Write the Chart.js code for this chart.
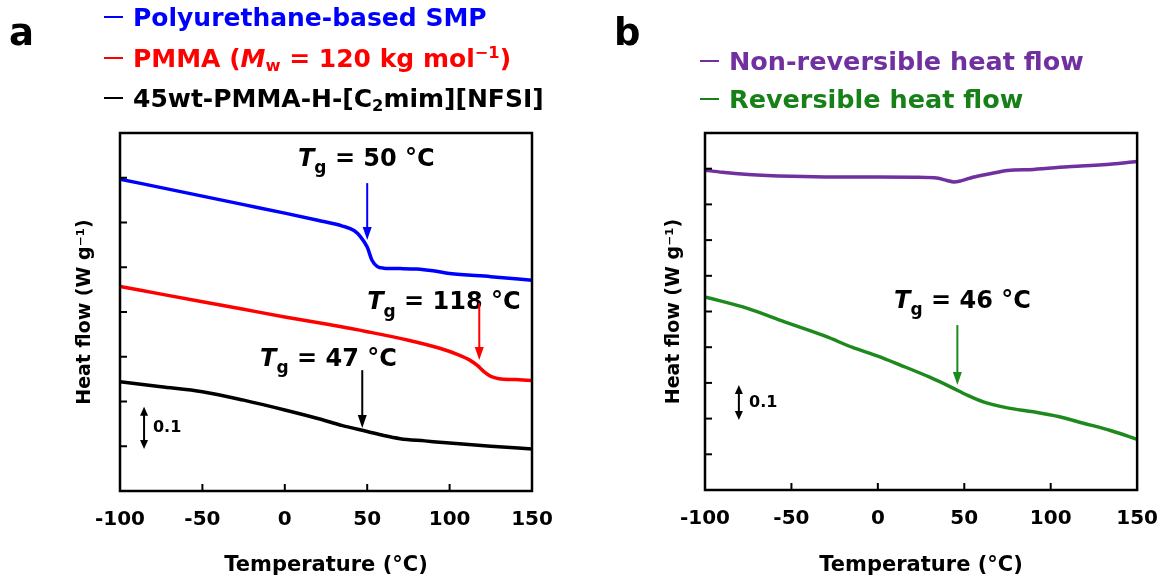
<!DOCTYPE html>
<html>
<head>
<meta charset="utf-8">
<script src="https://cdn.jsdelivr.net/npm/chart.js@4.4.1/dist/chart.umd.min.js"></script>
<style>
  body { margin: 0; background: #fff; }
  #wrap { position: relative; width: 1175px; height: 581px; overflow: hidden; font-family: "DejaVu Sans", sans-serif; font-weight: bold; }
  canvas { position: absolute; top: 0; }
  .letter { position: absolute; font-size: 37px; line-height: 37px; color: #000; }
  .lg { position: absolute; line-height: 28px; white-space: nowrap; }
  .lg .dash { display: inline-block; width: 19px; height: 2.5px; background: currentColor; vertical-align: middle; margin-right: 10px; position: relative; top: -2px; }
  .lg sub, .lg sup { font-size: 65%; line-height: 0; }
  .lg sub { vertical-align: -0.25em; }
  .lg sup { vertical-align: 0.55em; }
</style>
</head>
<body>
<div id="wrap">
  <canvas id="chartA" width="590" height="581" style="left:0"></canvas>
  <canvas id="chartB" width="575" height="581" style="left:600px"></canvas>

  <div class="letter" style="left:9px;top:14px">a</div>
  <div class="lg" style="left:104px;top:4px;font-size:25px;color:#0000ff"><span class="dash"></span>Polyurethane-based SMP</div>
  <div class="lg" style="left:104px;top:45px;font-size:25px;color:#ff0000"><span class="dash"></span>PMMA (<i>M</i><sub>w</sub> = 120 kg mol<sup>−1</sup>)</div>
  <div class="lg" style="left:104px;top:85px;font-size:25px;color:#000"><span class="dash"></span>45wt-PMMA-H-[C<sub>2</sub>mim][NFSI]</div>

  <div class="letter" style="left:614px;top:14px">b</div>
  <div class="lg" style="left:700px;top:47px;font-size:25.5px;color:#7030a0"><span class="dash"></span>Non-reversible heat flow</div>
  <div class="lg" style="left:700px;top:85px;font-size:25.5px;color:#188018"><span class="dash"></span>Reversible heat flow</div>
</div>

<script>
// panel a: DSC traces
const tempPU = [-100, -75, -50, -25, 0, 20, 35, 42, 46, 50, 53, 56, 60, 70, 80, 90, 100, 125, 150];
const heatPU = [0.697, 0.678, 0.659, 0.640, 0.621, 0.605, 0.592, 0.582, 0.568, 0.545, 0.515, 0.502, 0.498, 0.497, 0.496, 0.492, 0.486, 0.479, 0.471];

const tempPMMA = [-100, -75, -50, -25, 0, 25, 50, 75, 94, 105, 112, 117, 121, 125, 130, 140, 150];
const heatPMMA = [0.457, 0.440, 0.423, 0.406, 0.389, 0.373, 0.356, 0.337, 0.319, 0.305, 0.293, 0.280, 0.266, 0.256, 0.251, 0.249, 0.247];

const tempGel = [-100, -75, -50, -25, 0, 20, 35, 50, 60, 70, 85, 100, 125, 150];
const heatGel = [0.244, 0.233, 0.222, 0.203, 0.181, 0.162, 0.146, 0.133, 0.124, 0.117, 0.112, 0.107, 0.100, 0.094];

// panel b: modulated DSC
const tempNonRev = [-100, -90, -75, -50, -25, 0, 20, 35, 40, 44, 48, 55, 65, 75, 90, 112, 130, 150];
const heatNonRev = [0.896, 0.890, 0.884, 0.879, 0.877, 0.877, 0.876, 0.873, 0.867, 0.863, 0.866, 0.876, 0.886, 0.895, 0.898, 0.906, 0.911, 0.920];

const tempRev = [-100, -75, -54, -30, -15, 0, 13, 30, 42, 52, 61, 75, 90, 105, 119, 135, 150];
const heatRev = [0.541, 0.508, 0.471, 0.430, 0.400, 0.375, 0.350, 0.316, 0.289, 0.265, 0.247, 0.230, 0.219, 0.205, 0.187, 0.166, 0.142];

const tempTicks = [-100, -50, 0, 50, 100, 150];

const FONT = '"DejaVu Sans", sans-serif';

function pts(xs, ys) {
  return xs.map((x, i) => ({ x: x, y: ys[i] }));
}

function line(ctx, x1, y1, x2, y2) {
  ctx.beginPath();
  ctx.moveTo(x1, y1);
  ctx.lineTo(x2, y2);
  ctx.stroke();
}

function head(ctx, x, y, dir, w, h) {
  // dir = 1 points down, -1 points up
  ctx.beginPath();
  ctx.moveTo(x, y);
  ctx.lineTo(x - w / 2, y - dir * h);
  ctx.lineTo(x + w / 2, y - dir * h);
  ctx.closePath();
  ctx.fill();
}

function drawTg(ctx, px, py, rest, size) {
  ctx.fillStyle = '#000';
  ctx.textAlign = 'left';
  ctx.textBaseline = 'middle';
  ctx.font = `italic bold ${size}px ${FONT}`;
  ctx.fillText('T', px, py);
  let w = ctx.measureText('T').width;
  ctx.font = `bold ${Math.round(size * 0.7)}px ${FONT}`;
  ctx.fillText('g', px + w, py + size * 0.38);
  w += ctx.measureText('g').width;
  ctx.font = `bold ${size}px ${FONT}`;
  ctx.fillText(rest, px + w, py);
}

// frame, inward ticks, Tg notes and scale bar
const framePlugin = {
  id: 'frame',
  afterDraw(chart, args, opts) {
    const { ctx, chartArea: a } = chart;
    const sx = chart.scales.x, sy = chart.scales.y;
    ctx.save();
    ctx.strokeStyle = '#000';
    ctx.lineWidth = 2.5;
    ctx.strokeRect(a.left, a.top, a.right - a.left, a.bottom - a.top);
    ctx.lineWidth = 2;
    sx.ticks.forEach(t => {
      if (t.value <= sx.min || t.value >= sx.max) return;
      const p = sx.getPixelForValue(t.value);
      line(ctx, p, a.bottom, p, a.bottom - 7);
    });
    sy.ticks.forEach(t => {
      if (t.value <= sy.min + 1e-9 || t.value >= sy.max - 1e-9) return;
      const p = sy.getPixelForValue(t.value);
      line(ctx, a.left, p, a.left + 7, p);
    });

    (opts.notes || []).forEach(n => {
      drawTg(ctx, sx.getPixelForValue(n.x), sy.getPixelForValue(n.y), n.text, 24);
    });
    (opts.arrows || []).forEach(ar => {
      const px = sx.getPixelForValue(ar.x);
      const y1 = sy.getPixelForValue(ar.from), y2 = sy.getPixelForValue(ar.to);
      ctx.strokeStyle = ar.color;
      ctx.fillStyle = ar.color;
      ctx.lineWidth = 2;
      line(ctx, px, y1, px, y2 - 10);
      head(ctx, px, y2, 1, 9, 13);
    });
    if (opts.bar) {
      const b = opts.bar;
      const px = sx.getPixelForValue(b.x);
      const yTop = sy.getPixelForValue(b.top), yBot = sy.getPixelForValue(b.bottom);
      ctx.strokeStyle = '#000';
      ctx.fillStyle = '#000';
      ctx.lineWidth = 2;
      line(ctx, px, yTop + 7, px, yBot - 7);
      head(ctx, px, yTop, -1, 8, 9);
      head(ctx, px, yBot, 1, 8, 9);
      ctx.font = `bold 16px ${FONT}`;
      ctx.textAlign = 'left';
      ctx.textBaseline = 'middle';
      ctx.fillText(b.label, sx.getPixelForValue(b.textX), sy.getPixelForValue(b.textY));
    }
    ctx.restore();
  }
};

function makeChart(id, datasets, cfg) {
  return new Chart(document.getElementById(id), {
    type: 'line',
    data: { datasets: datasets },
    options: {
      responsive: false,
      animation: false,
      events: [],
      layout: { padding: { top: 133, right: cfg.padRight, left: 0, bottom: 0 } },
      elements: { point: { radius: 0 }, line: { borderWidth: 3.5, cubicInterpolationMode: 'monotone' } },
      plugins: {
        legend: { display: false },
        tooltip: { enabled: false },
        frame: cfg.frame
      },
      scales: {
        x: {
          type: 'linear',
          min: -100,
          max: 150,
          afterBuildTicks: s => { s.ticks = tempTicks.map(v => ({ value: v })); },
          afterFit: s => { s.height = cfg.xHeight; },
          grid: { display: false, drawTicks: false },
          border: { display: false },
          ticks: { color: '#000', font: { family: FONT, size: 20, weight: 'bold' }, padding: 17, maxRotation: 0, autoSkip: false },
          title: { display: true, text: 'Temperature (°C)', color: '#000', font: { family: FONT, size: 21, weight: 'bold' }, padding: { top: 0, bottom: 3 } }
        },
        y: {
          type: 'linear',
          min: 0,
          max: cfg.yMax,
          afterFit: s => { s.width = cfg.yWidth; },
          grid: { display: false, drawTicks: false },
          border: { display: false },
          ticks: { display: false, stepSize: 0.1 },
          title: { display: true, text: 'Heat flow (W g⁻¹)', color: '#000', font: { family: FONT, size: 19, weight: 'bold' }, padding: { top: cfg.yTitlePad, bottom: 0 } }
        }
      }
    },
    plugins: [framePlugin]
  });
}

makeChart('chartA', [
  { data: pts(tempPU, heatPU), borderColor: '#0000ff' },
  { data: pts(tempPMMA, heatPMMA), borderColor: '#ff0000' },
  { data: pts(tempGel, heatGel), borderColor: '#000000' }
], {
  padRight: 58, xHeight: 90, yWidth: 120, yMax: 0.8, yTitlePad: 74,
  frame: {
    notes: [
      { x: 8, y: 0.740, text: ' = 50 °C' },
      { x: 50, y: 0.420, text: ' = 118 °C' },
      { x: -15, y: 0.293, text: ' = 47 °C' }
    ],
    arrows: [
      { x: 50, from: 0.688, to: 0.561, color: '#0000ff' },
      { x: 118, from: 0.420, to: 0.293, color: '#ff0000' },
      { x: 47, from: 0.270, to: 0.141, color: '#000000' }
    ],
    bar: { x: -85.4, top: 0.188, bottom: 0.094, label: '0.1', textX: -80, textY: 0.141 }
  }
});

makeChart('chartB', [
  { data: pts(tempNonRev, heatNonRev), borderColor: '#7030a0' },
  { data: pts(tempRev, heatRev), borderColor: '#1e8a1e' }
], {
  padRight: 36, xHeight: 91, yWidth: 105, yMax: 1.0, yTitlePad: 63,
  frame: {
    notes: [
      { x: 9.4, y: 0.527, text: ' = 46 °C' }
    ],
    arrows: [
      { x: 46, from: 0.462, to: 0.294, color: '#1e8a1e' }
    ],
    bar: { x: -80.4, top: 0.294, bottom: 0.196, label: '0.1', textX: -74.5, textY: 0.244 }
  }
});
</script>
</body>
</html>
